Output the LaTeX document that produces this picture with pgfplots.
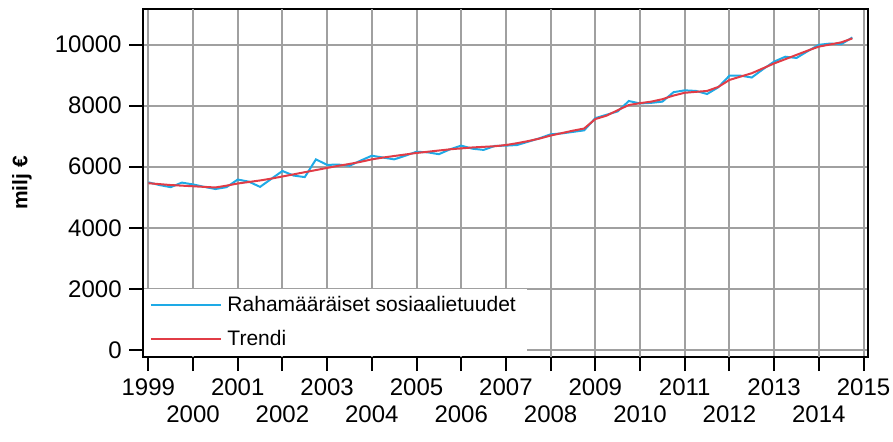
\documentclass[border=0pt]{standalone}
\usepackage{fontspec}
\setmainfont{Liberation Sans}
\usepackage{pgfplots}
\pgfplotsset{compat=1.18}
\definecolor{cblue}{RGB}{30,170,230}
\definecolor{cred}{RGB}{225,60,70}
\definecolor{cgrid}{RGB}{160,160,160}
\pgfplotstableread{
x y
1999.00 5490
1999.25 5400
1999.50 5330
1999.75 5480
2000.00 5420
2000.25 5340
2000.50 5270
2000.75 5330
2001.00 5580
2001.25 5510
2001.50 5340
2001.75 5600
2002.00 5860
2002.25 5710
2002.50 5660
2002.75 6240
2003.00 6060
2003.25 6070
2003.50 6030
2003.75 6200
2004.00 6360
2004.25 6300
2004.50 6240
2004.75 6360
2005.00 6490
2005.25 6470
2005.50 6410
2005.75 6570
2006.00 6690
2006.25 6590
2006.50 6550
2006.75 6680
2007.00 6690
2007.25 6710
2007.50 6820
2007.75 6930
2008.00 7060
2008.25 7090
2008.50 7140
2008.75 7190
2009.00 7590
2009.25 7700
2009.50 7810
2009.75 8150
2010.00 8070
2010.25 8090
2010.50 8130
2010.75 8440
2011.00 8500
2011.25 8480
2011.50 8380
2011.75 8600
2012.00 8980
2012.25 8980
2012.50 8920
2012.75 9190
2013.00 9440
2013.25 9600
2013.50 9560
2013.75 9780
2014.00 9990
2014.25 10030
2014.50 10010
2014.75 10230
}\blue
\pgfplotstableread{
x y
1999.00 5460
1999.25 5430
1999.50 5400
1999.75 5380
2000.00 5360
2000.25 5340
2000.50 5320
2000.75 5380
2001.00 5450
2001.25 5500
2001.50 5550
2001.75 5610
2002.00 5680
2002.25 5750
2002.50 5820
2002.75 5890
2003.00 5960
2003.25 6030
2003.50 6090
2003.75 6160
2004.00 6240
2004.25 6300
2004.50 6350
2004.75 6400
2005.00 6450
2005.25 6490
2005.50 6530
2005.75 6570
2006.00 6600
2006.25 6630
2006.50 6650
2006.75 6670
2007.00 6710
2007.25 6770
2007.50 6840
2007.75 6920
2008.00 7020
2008.25 7100
2008.50 7180
2008.75 7250
2009.00 7560
2009.25 7670
2009.50 7850
2009.75 8020
2010.00 8080
2010.25 8130
2010.50 8210
2010.75 8330
2011.00 8420
2011.25 8450
2011.50 8480
2011.75 8610
2012.00 8840
2012.25 8950
2012.50 9060
2012.75 9220
2013.00 9380
2013.25 9520
2013.50 9660
2013.75 9800
2014.00 9930
2014.25 10000
2014.50 10070
2014.75 10200
}\trend
\begin{document}
\fontsize{10.5}{12.6}\selectfont
\begin{tikzpicture}
\path[use as bounding box] (-71.5pt,-42pt) rectangle (375pt,178.5pt);
\begin{axis}[
  at={(0,0)}, anchor=south west,
  scale only axis, width=362.5pt, height=174pt,
  xmin=1998.881, xmax=2015.10, ymin=-229, ymax=11162,
  xtick={1999,2001,...,2015},
  extra x ticks={2000,2002,...,2014},
  extra x tick style={grid=major, tick label style={yshift=-13.5pt}},
  ytick={0,2000,...,10000},
  scaled y ticks=false, scaled x ticks=false,
  grid=major,
  major grid style={cgrid, line width=1pt},
  tick pos=left, tick align=outside, major tick length=7pt,
  tick style={black, line width=1pt},
  axis line style={black, line width=1pt},
  /pgf/number format/assume math mode=true,
  /pgf/number format/1000 sep={},
  tick label style={font=\fontsize{12}{14}\selectfont},
  ylabel={\bfseries milj €},
  ylabel style={at={(axis description cs:-0.1669,0.5)}, anchor=center, font=\fontsize{10.5}{12.6}\selectfont},
  legend style={at={(axis description cs:0,0)}, anchor=south west, xshift=0.5pt, yshift=0.5pt,
    draw=none, fill=white, inner xsep=2.8pt, inner ysep=1.6pt, row sep=3.8pt,
    nodes={inner xsep=2.75pt, inner ysep=2pt},
    font=\fontsize{10.5}{12.6}\selectfont},
  legend cell align=left,
  legend image code/.code={\draw[#1, line width=1pt] (0pt,0pt) -- (35pt,0pt);},
]
\addplot[cblue, line width=1pt] table[x=x, y=y] {\blue};
\addlegendentry{Rahamääräiset sosiaalietuudet}
\addplot[cred, line width=1pt] table[x=x, y=y] {\trend};
\addlegendentry{Trendi}
\end{axis}
\end{tikzpicture}
\end{document}
